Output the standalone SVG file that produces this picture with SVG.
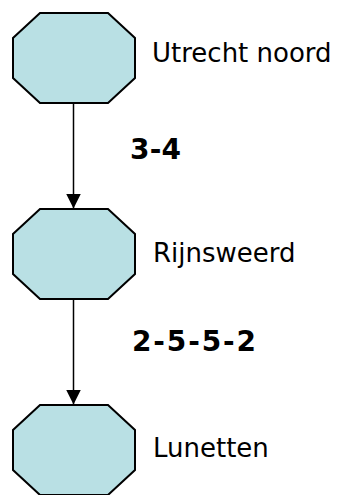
<svg xmlns="http://www.w3.org/2000/svg" width="337" height="495" viewBox="0 0 337 495">
<defs>
<style>
.oct{fill:#b9e0e4;stroke:#000;stroke-width:2;stroke-linejoin:miter}
.lbl{font-family:"DejaVu Sans","Liberation Sans",sans-serif;font-size:26px;fill:#000}
.num{font-family:"DejaVu Sans","Liberation Sans",sans-serif;font-size:28px;font-weight:bold;fill:#000}
.conn{stroke:#000;stroke-width:1.5;fill:none}
</style>
<marker id="ah" markerWidth="15" markerHeight="15" refX="15" refY="7.5" orient="auto" markerUnits="userSpaceOnUse">
<path d="M0,0 L15,7.5 L0,15 Z" fill="#000"/>
</marker>
</defs>
<rect width="337" height="495" fill="#fff"/>
<g id="connectors">
<line class="conn" x1="73.5" y1="103" x2="73.5" y2="208.5" marker-end="url(#ah)"/>
<line class="conn" x1="73.5" y1="299" x2="73.5" y2="404.5" marker-end="url(#ah)"/>
</g>
<g id="node-utrecht-noord">
<polygon class="oct" points="40,13 108,13 135,38 135,78 108,103 40,103 13,78 13,38"/>
<text class="lbl" x="152" y="62">Utrecht noord</text>
</g>
<g id="label-3-4">
<text class="num" x="130" y="159" textLength="51" lengthAdjust="spacing">3-4</text>
</g>
<g id="node-rijnsweerd">
<polygon class="oct" points="40,209 108,209 135,234 135,274 108,299 40,299 13,274 13,234"/>
<text class="lbl" x="153" y="262">Rijnsweerd</text>
</g>
<g id="label-2-5-5-2">
<text class="num" x="132" y="351" textLength="124" lengthAdjust="spacing">2-5-5-2</text>
</g>
<g id="node-lunetten">
<polygon class="oct" points="40,405 108,405 135,430 135,470 108,495 40,495 13,470 13,430"/>
<text class="lbl" x="153" y="457">Lunetten</text>
</g>
</svg>
